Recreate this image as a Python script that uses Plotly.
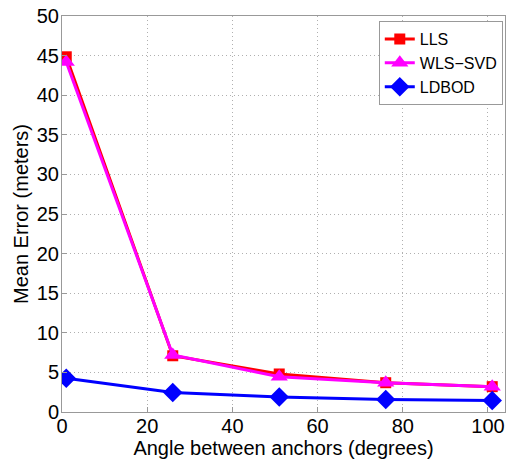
import plotly.graph_objects as go

angles = [1, 26, 51, 76, 101]
lls = [44.85, 7.1, 4.8, 3.7, 3.2]
wls_svd = [44.2, 7.2, 4.45, 3.7, 3.2]
ldbod = [4.25, 2.45, 1.9, 1.57, 1.45]

fig = go.Figure()
fig.add_trace(go.Scatter(x=angles, y=lls, name="LLS", mode="lines+markers",
                         line=dict(color="#ff0000", width=3),
                         marker=dict(symbol="square", size=11, color="#ff0000")))
fig.add_trace(go.Scatter(x=angles, y=wls_svd, name="WLS\u2212SVD", mode="lines+markers",
                         line=dict(color="#ff00ff", width=3),
                         marker=dict(symbol="triangle-up", size=15, color="#ff00ff")))
fig.add_trace(go.Scatter(x=angles, y=ldbod, name="LDBOD", mode="lines+markers",
                         line=dict(color="#0000ff", width=3),
                         marker=dict(symbol="diamond", size=15, color="#0000ff")))

axis_common = dict(showline=True, linecolor="#999999", linewidth=1, mirror=True,
                   showgrid=True, gridcolor="#b0b0b0", griddash="1px,3px", gridwidth=1,
                   ticks="inside", ticklen=5, tickcolor="#999999", zeroline=False,
                   tickfont=dict(size=20, color="black"))
fig.update_xaxes(range=[0, 104], tickvals=[0, 20, 40, 60, 80, 100], ticklabelstandoff=-4,
                 title=dict(text="Angle between anchors (degrees)", font=dict(size=20, color="black"), standoff=2),
                 **axis_common)
fig.update_yaxes(range=[0, 50], dtick=5, ticklabelstandoff=-2,
                 title=dict(text="Mean Error (meters)", font=dict(size=20, color="black"), standoff=2),
                 **axis_common)
fig.update_layout(width=507, height=462, margin=dict(l=62, r=2, t=16, b=50),
                  plot_bgcolor="white", paper_bgcolor="white",
                  font=dict(family="Liberation Sans, Arial, sans-serif", color="black"),
                  legend=dict(x=0.995, y=0.987, xanchor="right", yanchor="top",
                              bgcolor="white", bordercolor="#999999", borderwidth=1,
                              font=dict(size=16), tracegroupgap=0, itemwidth=30))
fig.write_html("out.html", config={"displayModeBar": False},
               post_script="document.body.style.margin='0';")
